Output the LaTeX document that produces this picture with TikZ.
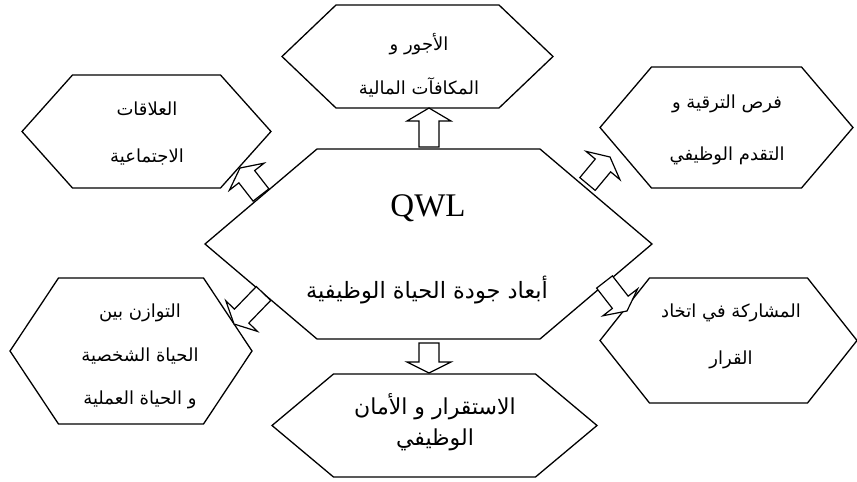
\documentclass[tikz,border=0pt]{standalone}
\usepackage{fontspec}
\setmainfont{Liberation Serif}
\newfontfamily\arabicfont[Script=Arabic]{DejaVu Sans}
\TeXXeTstate=1
\usetikzlibrary{calc}

% hexagon outline: #1 centre, #2 half-width of the flat top, #3 half-width at the side points, #4 half-height
\newcommand{\hexoutline}[4]{%
  \draw[hexline] ($(#1)+(-#3,0)$) -- ($(#1)+(-#2,-#4)$) -- ($(#1)+(#2,-#4)$)
    -- ($(#1)+(#3,0)$) -- ($(#1)+(#2,#4)$) -- ($(#1)+(-#2,#4)$) -- cycle;}

% hollow block arrow from #1 (base) to #2 (tip), head length #3
\newcommand{\blockarrow}[3]{%
  \coordinate (hb) at ($(#2)!#3!(#1)$);
  \draw[arrowline] ($(#1)!10pt!90:(#2)$) -- ($(hb)!10pt!90:(#2)$) -- ($(hb)!22pt!90:(#2)$)
    -- (#2) -- ($(hb)!22pt!-90:(#2)$) -- ($(hb)!10pt!-90:(#2)$) -- ($(#1)!10pt!-90:(#2)$) -- cycle;}

\tikzset{
  hexline/.style={draw=black, line width=1.3pt, line join=miter},
  arrowline/.style={draw=black, line width=1.2pt, fill=white, line join=miter},
  txt/.style={align=center, inner sep=0pt, font=\arabicfont\fontsize{18}{44}\selectfont},
}

\begin{document}
\begin{tikzpicture}[x=1pt, y=-1pt]
\useasboundingbox[fill=white] (0,0) rectangle (857,482);

% hexagon centres
\coordinate (cq) at (428.5,244);
\coordinate (hw) at (417.5,56.5);
\coordinate (hs) at (146.5,131.5);
\coordinate (hp) at (726.5,127.5);
\coordinate (hb2) at (131,351);
\coordinate (hd) at (728.5,340.5);
\coordinate (hj) at (434.5,425.5);

\hexoutline{cq}{111.5}{223.5}{95}
\hexoutline{hw}{81.5}{135.5}{51.5}
\hexoutline{hs}{74}{124.5}{56.5}
\hexoutline{hp}{75}{126.5}{60.5}
\hexoutline{hb2}{72.5}{121}{73}
\hexoutline{hd}{79}{128.5}{62.5}
\hexoutline{hj}{101}{162.5}{51.5}

% labels
\node[inner sep=0pt, font=\fontsize{33}{33}\selectfont] (qwl) at (428,208) {QWL};
\node[txt, font=\arabicfont\fontsize{22.5}{26}\selectfont] (dims) at (427,290) {\beginR أبعاد جودة الحياة الوظيفية\endR};
\node[txt] (wages) at (419,65) {\beginR الأجور و\endR\\\beginR المكافآت المالية\endR};
\node[txt, font=\arabicfont\fontsize{18}{47}\selectfont] (social) at (147,133.5) {\beginR العلاقات\endR\\\beginR الاجتماعية\endR};
\node[txt, font=\arabicfont\fontsize{18}{52}\selectfont] (promo) at (727,129.5) {\beginR فرص الترقية و\endR\\\beginR التقدم الوظيفي\endR};
\node[txt, font=\arabicfont\fontsize{18}{43.5}\selectfont] (balance) at (140,356.5) {\beginR التوازن بين\endR\\\beginR الحياة الشخصية\endR\\\beginR و الحياة العملية\endR};
\node[txt, font=\arabicfont\fontsize{18}{47}\selectfont] (decide) at (731,336.5) {\beginR المشاركة في اتخاد\endR\\\beginR القرار\endR};
\node[txt, font=\arabicfont\fontsize{22}{31}\selectfont] (secure) at (435,422.5) {\beginR الاستقرار و الأمان\endR\\\beginR الوظيفي\endR};

% arrow end points
\coordinate (a1s) at (429,147);   \coordinate (a1t) at (429,108);
\coordinate (a2s) at (429,343);   \coordinate (a2t) at (429,373);
\coordinate (a3s) at (261,195);   \coordinate (a3t) at (240,168);
\coordinate (a4s) at (587.5,184); \coordinate (a4t) at (610,157);
\coordinate (a5s) at (263.5,293.5); \coordinate (a5t) at (234,324);
\coordinate (a6s) at (604.5,282); \coordinate (a6t) at (627,311);

\blockarrow{a1s}{a1t}{13pt}
\blockarrow{a2s}{a2t}{11pt}
\blockarrow{a3s}{a3t}{11pt}
\blockarrow{a4s}{a4t}{11pt}
\blockarrow{a5s}{a5t}{11pt}
\blockarrow{a6s}{a6t}{11pt}
\end{tikzpicture}
\end{document}
